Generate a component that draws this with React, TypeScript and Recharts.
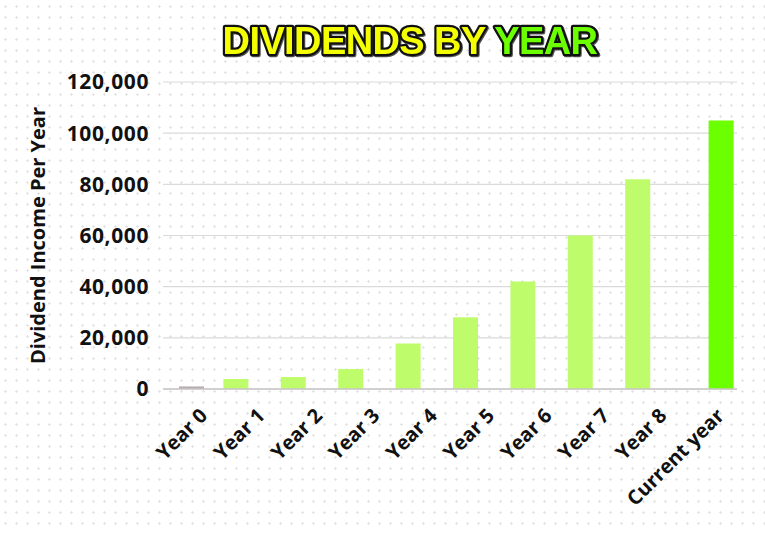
import { BarChart, Bar, XAxis, YAxis, CartesianGrid } from 'recharts';

const LIGHT_GREEN = '#bffc6b';
const CURRENT_GREEN = '#6cff00';
const START_COLOR = '#b8acaf';

const categories = ['Year 0', 'Year 1', 'Year 2', 'Year 3', 'Year 4', 'Year 5', 'Year 6', 'Year 7', 'Year 8', 'Current year'];
// the original plots three series: the start year, the growth years and the current year
const growthValues = [null, 3900, 4700, 7800, 17800, 28000, 42000, 60000, 82000, null];
const startValues = [1000, null, null, null, null, null, null, null, null, null];
const currentValues = [null, null, null, null, null, null, null, null, null, 105000];
const yTicks = [0, 20000, 40000, 60000, 80000, 100000, 120000];

const FONT = '"Open Sans", sans-serif';

const dotPattern =
  "url(\"data:image/svg+xml;utf8,<svg xmlns='http://www.w3.org/2000/svg' width='11' height='11'><path d='M5.5 4v3M4 5.5h3' stroke='%23e4e4e4' stroke-width='1'/></svg>\")";

function XTick(props: any) {
  const { x, y, payload } = props;
  return (
    <text
      transform={`translate(${x + 17},${y + 28}) rotate(-45)`}
      textAnchor="end"
      fontFamily={FONT}
      fontWeight={700}
      fontSize={20}
      fill="#111"
    >
      {payload.value}
    </text>
  );
}

export default function App() {
  const data = categories.map((name, i) => ({
    name,
    growth: growthValues[i],
    start: startValues[i],
    current: currentValues[i],
  }));

  return (
    <div
      style={{
        position: 'relative',
        width: 765,
        height: 533,
        backgroundColor: '#ffffff',
        backgroundImage: dotPattern,
        backgroundPosition: '0px 1px',
      }}
    >
      <style>{'body{margin:0}'}</style>
      <BarChart
        width={765}
        height={533}
        data={data}
        margin={{ top: 82, right: 28, left: 63, bottom: 14 }}
        barSize={25}
        barGap={-12}
      >
        <CartesianGrid vertical={false} stroke="#dadada" strokeWidth={1.2} />
        <XAxis
          dataKey="name"
          interval={0}
          height={130}
          tickSize={0}
          tickMargin={0}
          axisLine={{ stroke: '#c9c6c7', strokeWidth: 1.5 }}
          tick={<XTick />}
        />
        <YAxis
          width={100}
          domain={[0, 120000]}
          ticks={yTicks}
          tickSize={0}
          tickMargin={14}
          axisLine={false}
          tickFormatter={(v: number) => v.toLocaleString('en-US')}
          tick={{ fontFamily: FONT, fontWeight: 700, fontSize: 21, fill: '#111', letterSpacing: 0.6 }}
          label={{
            value: 'Dividend Income Per Year',
            angle: -90,
            position: 'insideLeft',
            offset: -25,
            style: { fontFamily: FONT, fontWeight: 700, fontSize: 20, fill: '#111', textAnchor: 'middle' },
          }}
        />
        <Bar dataKey="growth" fill={LIGHT_GREEN} isAnimationActive={false} />
        <Bar dataKey="start" fill={START_COLOR} isAnimationActive={false} />
        <Bar dataKey="current" fill={CURRENT_GREEN} isAnimationActive={false} />
      </BarChart>
      <svg
        width={765}
        height={80}
        style={{ position: 'absolute', left: 0, top: 0, pointerEvents: 'none' }}
      >
        <text
          x={410}
          y={54}
          textAnchor="middle"
          fontFamily='"Liberation Sans", Arial, sans-serif'
          fontWeight={700}
          fontSize={38}
          letterSpacing={-0.6}
          stroke="#111"
          strokeWidth={4.5}
          strokeLinejoin="round"
          paintOrder="stroke"
          style={{ filter: 'drop-shadow(1.5px 1.5px 0 #555)' }}
        >
          <tspan fill="#f4ff00">DIVIDENDS BY </tspan>
          <tspan fill={CURRENT_GREEN}>YEAR</tspan>
        </text>
      </svg>
    </div>
  );
}
